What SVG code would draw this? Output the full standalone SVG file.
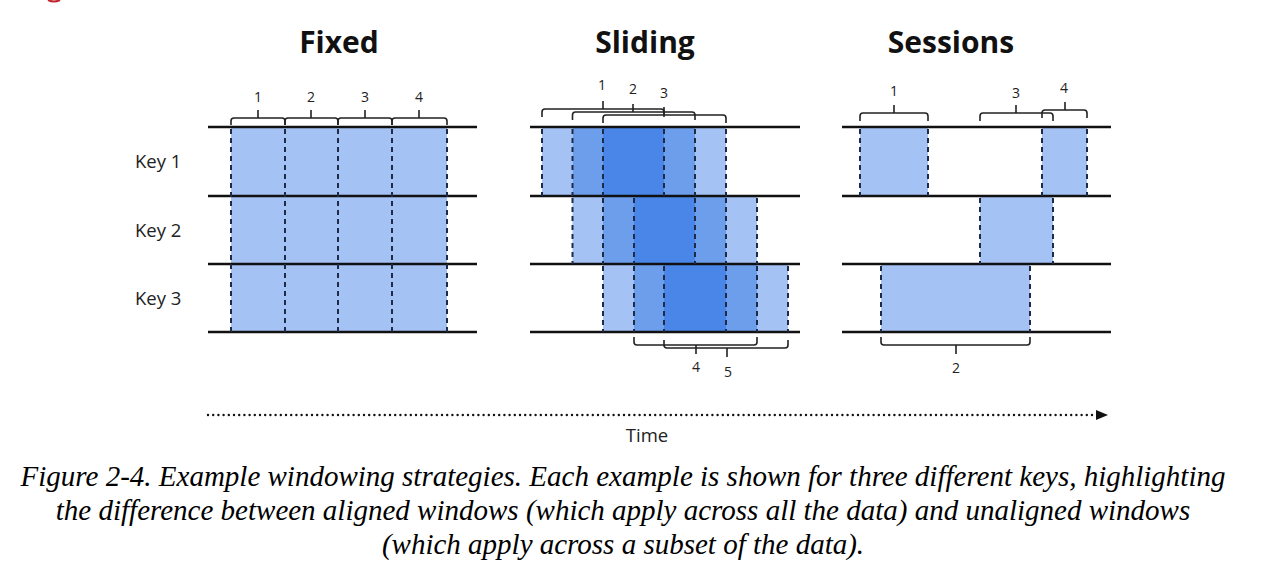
<svg xmlns="http://www.w3.org/2000/svg" width="1280" height="579" viewBox="0 0 1280 579">
<style>
.title{font-family:"Open Sans",sans-serif;font-weight:bold;font-size:30px;fill:#111;text-anchor:middle}
.key{font-family:"Open Sans",sans-serif;font-size:18.5px;fill:#222}
.num{font-family:"Open Sans",sans-serif;font-size:14px;fill:#222;text-anchor:middle}
.axis{stroke:#111;stroke-width:2.5}
.dash{stroke:#1e2b48;stroke-width:2;stroke-dasharray:5 4}
.br{fill:none;stroke:#222;stroke-width:1.6}
.l{fill:#a4c2f4}.m{fill:#6d9eeb}.d{fill:#4a86e8}
.cap{font-family:"Liberation Serif",serif;font-style:italic;font-size:29px;fill:#000;text-anchor:middle}
</style>
<defs>
<marker id="arr" markerWidth="12" markerHeight="10" refX="1" refY="5" orient="auto" markerUnits="userSpaceOnUse"><path d="M0,0 L12,5 L0,10 Z" fill="#111"/></marker>
</defs>
<path d="M48,0 Q54,3 60,0" fill="none" stroke="#c0262d" stroke-width="2"/>

<g id="titles">
<text class="title" x="339" y="53">Fixed</text>
<text class="title" x="645" y="53">Sliding</text>
<text class="title" x="951" y="53">Sessions</text>
</g>
<g id="keys">
<text class="key" x="135" y="168">Key 1</text>
<text class="key" x="135" y="237">Key 2</text>
<text class="key" x="135" y="305">Key 3</text>
</g>

<g id="fixed">
<rect class="l" x="231" y="127" width="216" height="205"/>
<g class="axis">
<line x1="208" y1="127" x2="477" y2="127"/><line x1="208" y1="196" x2="477" y2="196"/>
<line x1="208" y1="264" x2="477" y2="264"/><line x1="208" y1="332" x2="477" y2="332"/>
</g>
<g class="dash">
<line x1="231" y1="129" x2="231" y2="332"/><line x1="285" y1="129" x2="285" y2="332"/>
<line x1="338" y1="129" x2="338" y2="332"/><line x1="392" y1="129" x2="392" y2="332"/>
<line x1="447" y1="129" x2="447" y2="332"/>
</g>
<g class="br">
<path d="M231,125 v-4 q0,-3 3,-3 H282 q3,0 3,3 v4 M258,118 v-8"/>
<path d="M285,125 v-4 q0,-3 3,-3 H335 q3,0 3,3 v4 M311,118 v-8"/>
<path d="M338,125 v-4 q0,-3 3,-3 H389 q3,0 3,3 v4 M365,118 v-8"/>
<path d="M392,125 v-4 q0,-3 3,-3 H444 q3,0 3,3 v4 M419,118 v-8"/>
</g>
<text class="num" x="258" y="102">1</text><text class="num" x="311" y="102">2</text>
<text class="num" x="365" y="102">3</text><text class="num" x="419" y="102">4</text>
</g>

<g id="sliding">
<rect class="l" x="542" y="127" width="30.5" height="69"/>
<rect class="m" x="572.5" y="127" width="30.5" height="69"/>
<rect class="d" x="603" y="127" width="61" height="69"/>
<rect class="m" x="664" y="127" width="31" height="69"/>
<rect class="l" x="695" y="127" width="31" height="69"/>
<rect class="l" x="572.5" y="196" width="30.5" height="68"/>
<rect class="m" x="603" y="196" width="31" height="68"/>
<rect class="d" x="634" y="196" width="61" height="68"/>
<rect class="m" x="695" y="196" width="31" height="68"/>
<rect class="l" x="726" y="196" width="31" height="68"/>
<rect class="l" x="603" y="264" width="31" height="68"/>
<rect class="m" x="634" y="264" width="30" height="68"/>
<rect class="d" x="664" y="264" width="62" height="68"/>
<rect class="m" x="726" y="264" width="31" height="68"/>
<rect class="l" x="757" y="264" width="31" height="68"/>
<g class="axis">
<line x1="530" y1="127" x2="800" y2="127"/><line x1="530" y1="196" x2="800" y2="196"/>
<line x1="530" y1="264" x2="800" y2="264"/><line x1="530" y1="332" x2="800" y2="332"/>
</g>
<g class="dash">
<line x1="542" y1="129" x2="542" y2="196"/><line x1="572.5" y1="129" x2="572.5" y2="196"/>
<line x1="603" y1="129" x2="603" y2="196"/><line x1="664" y1="129" x2="664" y2="196"/>
<line x1="695" y1="129" x2="695" y2="196"/><line x1="726" y1="129" x2="726" y2="196"/>
<line x1="572.5" y1="198" x2="572.5" y2="264"/><line x1="603" y1="198" x2="603" y2="264"/>
<line x1="634" y1="198" x2="634" y2="264"/><line x1="695" y1="198" x2="695" y2="264"/>
<line x1="726" y1="198" x2="726" y2="264"/><line x1="757" y1="198" x2="757" y2="264"/>
<line x1="603" y1="266" x2="603" y2="332"/><line x1="634" y1="266" x2="634" y2="332"/>
<line x1="664" y1="266" x2="664" y2="332"/><line x1="726" y1="266" x2="726" y2="332"/>
<line x1="757" y1="266" x2="757" y2="332"/><line x1="788" y1="266" x2="788" y2="332"/>
</g>
<g class="br">
<path d="M542,117 v-5 q0,-3 3,-3 H661 q3,0 3,3 v5 M603,109 v-8"/>
<path d="M572.5,120 v-5 q0,-3 3,-3 H692 q3,0 3,3 v5 M633,112 v-8"/>
<path d="M603,123 v-5 q0,-3 3,-3 H723 q3,0 3,3 v5 M664,115 v-8"/>
<path d="M634,337 v5 q0,3 3,3 H754 q3,0 3,-3 v-5 M696,345 v9"/>
<path d="M664,340 v5 q0,3 3,3 H785 q3,0 3,-3 v-5 M727,348 v9"/>
</g>
<text class="num" x="602" y="90">1</text><text class="num" x="633" y="94">2</text>
<text class="num" x="664" y="98">3</text>
<text class="num" x="696" y="372">4</text><text class="num" x="728" y="377">5</text>
</g>

<g id="sessions">
<rect class="l" x="860" y="127" width="68" height="69"/>
<rect class="l" x="1042" y="127" width="45" height="69"/>
<rect class="l" x="980" y="196" width="73" height="68"/>
<rect class="l" x="881" y="264" width="149" height="68"/>
<g class="axis">
<line x1="842" y1="127" x2="1111" y2="127"/><line x1="842" y1="196" x2="1111" y2="196"/>
<line x1="842" y1="264" x2="1111" y2="264"/><line x1="842" y1="332" x2="1111" y2="332"/>
</g>
<g class="dash">
<line x1="860" y1="129" x2="860" y2="196"/><line x1="928" y1="129" x2="928" y2="196"/>
<line x1="1042" y1="129" x2="1042" y2="196"/><line x1="1087" y1="129" x2="1087" y2="196"/>
<line x1="980" y1="198" x2="980" y2="264"/><line x1="1053" y1="198" x2="1053" y2="264"/>
<line x1="881" y1="266" x2="881" y2="332"/><line x1="1030" y1="266" x2="1030" y2="332"/>
</g>
<g class="br">
<path d="M860,121 v-5 q0,-3 3,-3 H925 q3,0 3,3 v5 M894,113 v-8"/>
<path d="M980,121 v-5 q0,-3 3,-3 H1050 q3,0 3,3 v5 M1016,113 v-8"/>
<path d="M1042,118 v-5 q0,-3 3,-3 H1084 q3,0 3,3 v5 M1065,110 v-8"/>
<path d="M881,337 v5 q0,3 3,3 H1027 q3,0 3,-3 v-5 M956,345 v9"/>
</g>
<text class="num" x="894" y="96">1</text><text class="num" x="1016" y="98">3</text>
<text class="num" x="1064" y="93">4</text><text class="num" x="956" y="373">2</text>
</g>

<g id="connectors">
<line x1="208" y1="415" x2="1097" y2="415" stroke="#111" stroke-width="2.4" stroke-dasharray="0 5.2" stroke-linecap="round" marker-end="url(#arr)"/>
</g>
<text class="key" x="647" y="442" text-anchor="middle">Time</text>

<g id="caption">
<text class="cap" x="623" y="486">Figure 2-4. Example windowing strategies. Each example is shown for three different keys, highlighting</text>
<text class="cap" x="623" y="520">the difference between aligned windows (which apply across all the data) and unaligned windows</text>
<text class="cap" x="623" y="554">(which apply across a subset of the data).</text>
</g>
</svg>
